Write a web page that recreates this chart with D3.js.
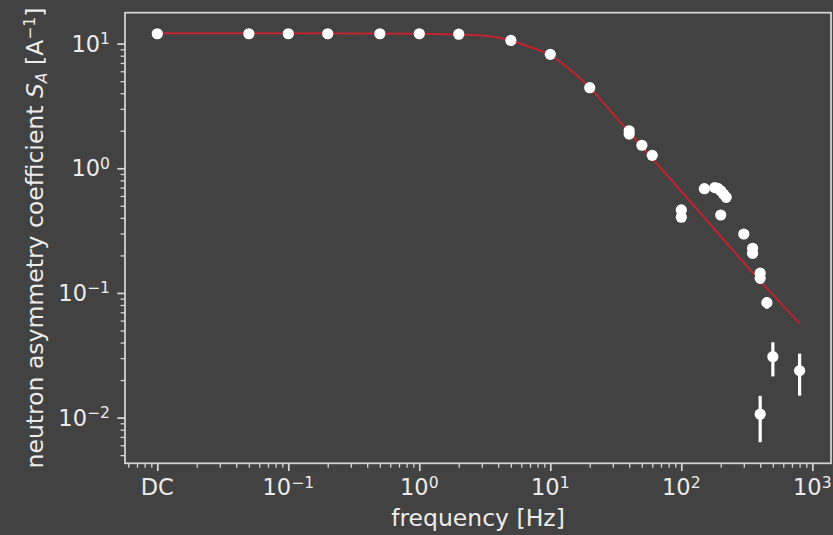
<!DOCTYPE html>
<html>
<head>
    <title>Neutron asymmetry coefficient vs frequency</title>
    <meta charset="UTF-8">
    <script src="https://cdn.jsdelivr.net/npm/d3@7"></script>
    <style>
        body {
            margin: 0;
            background-color: #424242;
        }
        text {
            font-family: "DejaVu Sans", sans-serif;
            fill: #ececec;
        }
        .domain { display: none; }
        .tick line { stroke: #d4d4d4; }
    </style>
</head>
<body>
    <div id="chart"></div>
    <script>
        // measured points (0 = DC)
        var freqs  = [0, 0.05, 0.1, 0.2, 0.5, 1, 2, 5, 10, 20, 40, 40, 50, 60,
                      100, 100, 150, 180, 190, 200, 210, 220, 200, 300, 350, 350,
                      400, 400, 450, 500, 400, 800];
        var values = [12.0, 12.0, 12.0, 12.0, 12.0, 12.0, 11.9, 10.6, 8.2, 4.43, 2.0, 1.88, 1.53, 1.27,
                      0.463, 0.405, 0.686, 0.70, 0.69, 0.66, 0.62, 0.585, 0.422, 0.297, 0.228, 0.208,
                      0.144, 0.131, 0.0836, 0.0308, 0.01065, 0.0238];
        var errors = [0, 0, 0, 0, 0, 0, 0, 0, 0, 0, 0, 0, 0, 0,
                      0, 0, 0, 0, 0, 0, 0, 0, 0, 0, 0, 0,
                      0, 0, 0.009, 0.0094, 0.0043, 0.0088];

        // fitted model curve
        var fitFreqs  = [0, 0.1, 1, 2, 3, 4, 5, 7, 10, 15, 20, 30, 40, 60, 100, 200, 400, 800];
        var fitValues = [12.1, 12.1, 12.0, 11.8, 11.6, 11.2, 10.6, 9.4, 8.1, 5.9, 4.45, 2.75, 1.95, 1.2, 0.654, 0.285, 0.125, 0.0571];

        var xTickVals  = [0, 0.1, 1, 10, 100, 1000];
        var xTickBase  = ["DC", "10", "10", "10", "10", "10"];
        var xTickExp   = ["", "\u22121", "0", "1", "2", "3"];
        var yTickVals  = [0.01, 0.1, 1, 10];
        var yTickExp   = ["\u22122", "\u22121", "0", "1"];

        var DC_POS = 0.01;
        function fx(f) { return f === 0 ? DC_POS : f; }

        var W = 833, H = 535;
        var m = {left: 125, right: 831, top: 12.7, bottom: 463.3};
        var tickFs = 22.5, titleFs = 23.5, supFs = 15.6;

        var svg = d3.select("#chart").append("svg")
            .attr("width", W)
            .attr("height", H);

        svg.append("rect")
            .attr("width", W).attr("height", H)
            .attr("fill", "#424242");

        var x = d3.scaleLog()
            .domain([0.005667, 1389])
            .range([m.left, m.right]);

        var y = d3.scaleLog()
            .domain([0.0043, 17.7])
            .range([m.bottom, m.top]);

        // minor ticks
        function minors(lo, hi) {
            var out = [];
            for (var e = lo; e <= hi; e++) {
                for (var k = 2; k <= 9; k++) out.push(k * Math.pow(10, e));
            }
            return out;
        }
        var xMinor = minors(-3, 3).filter(function (v) { return v > x.domain()[0] && v < x.domain()[1]; });
        var yMinor = minors(-3, 1).filter(function (v) { return v > y.domain()[0] && v < y.domain()[1]; });

        var gx = svg.append("g").attr("transform", "translate(0," + m.bottom + ")");
        gx.append("g")
            .call(d3.axisBottom(x).tickValues(xMinor).tickSize(4.4).tickFormat(""))
            .selectAll(".tick line").attr("stroke-width", 1.3);
        gx.append("g")
            .call(d3.axisBottom(x).tickValues(xTickVals.map(fx)).tickSize(7.7).tickFormat(""))
            .selectAll(".tick line").attr("stroke-width", 1.75);

        var gy = svg.append("g").attr("transform", "translate(" + m.left + ",0)");
        gy.append("g")
            .call(d3.axisLeft(y).tickValues(yMinor).tickSize(4.4).tickFormat(""))
            .selectAll(".tick line").attr("stroke-width", 1.3);
        gy.append("g")
            .call(d3.axisLeft(y).tickValues(yTickVals).tickSize(7.7).tickFormat(""))
            .selectAll(".tick line").attr("stroke-width", 1.75);

        // x tick labels
        xTickVals.forEach(function (v, i) {
            var t = svg.append("text")
                .attr("x", x(fx(v)))
                .attr("y", 495)
                .attr("text-anchor", "middle")
                .attr("font-size", tickFs)
                .text(xTickBase[i]);
            if (xTickExp[i]) {
                t.append("tspan")
                    .attr("dy", -7.5)
                    .attr("font-size", supFs)
                    .text(xTickExp[i]);
            }
        });

        // y tick labels
        yTickVals.forEach(function (v, i) {
            var t = svg.append("text")
                .attr("x", 110)
                .attr("y", y(v) + 8)
                .attr("text-anchor", "end")
                .attr("font-size", tickFs)
                .text("10");
            t.append("tspan")
                .attr("dy", -7.5)
                .attr("font-size", supFs)
                .text(yTickExp[i]);
        });

        // fit curve
        var line = d3.line()
            .x(function (d, i) { return x(fx(fitFreqs[i])); })
            .y(function (d) { return y(d); })
            .curve(d3.curveMonotoneX);

        svg.append("path")
            .datum(fitValues)
            .attr("d", line)
            .attr("fill", "none")
            .attr("stroke", "#bf2430")
            .attr("stroke-width", 2);

        // error bars
        var pts = freqs.map(function (f, i) {
            return {f: fx(f), v: values[i], e: errors[i]};
        });

        svg.append("g").selectAll("line")
            .data(pts.filter(function (d) { return d.e > 0; }))
            .enter().append("line")
            .attr("x1", function (d) { return x(d.f); })
            .attr("x2", function (d) { return x(d.f); })
            .attr("y1", function (d) { return y(d.v - d.e); })
            .attr("y2", function (d) { return y(d.v + d.e); })
            .attr("stroke", "#ffffff")
            .attr("stroke-width", 3.2);

        svg.append("g").selectAll("circle")
            .data(pts)
            .enter().append("circle")
            .attr("cx", function (d) { return x(d.f); })
            .attr("cy", function (d) { return y(d.v); })
            .attr("r", 5.6)
            .attr("fill", "#ffffff");

        // frame
        svg.append("rect")
            .attr("x", m.left).attr("y", m.top)
            .attr("width", m.right - m.left).attr("height", m.bottom - m.top)
            .attr("fill", "none")
            .attr("stroke", "#d4d4d4")
            .attr("stroke-width", 1.75);

        // axis titles
        svg.append("text")
            .attr("x", (m.left + m.right) / 2)
            .attr("y", 526)
            .attr("text-anchor", "middle")
            .attr("font-size", titleFs)
            .text("frequency [Hz]");

        var yl = svg.append("text")
            .attr("transform", "translate(42.5," + ((m.top + m.bottom) / 2) + ") rotate(-90)")
            .attr("text-anchor", "middle")
            .attr("font-size", titleFs);
        yl.append("tspan").text("neutron asymmetry coefficient ");
        yl.append("tspan").attr("font-style", "italic").text("S");
        yl.append("tspan").attr("font-style", "italic").attr("font-size", supFs).attr("dy", 4).text("A");
        yl.append("tspan").attr("dy", -4).text(" [A");
        yl.append("tspan").attr("font-size", supFs).attr("dy", -8).text("\u22121");
        yl.append("tspan").attr("dy", 8).text("]");
    </script>
</body>
</html>
